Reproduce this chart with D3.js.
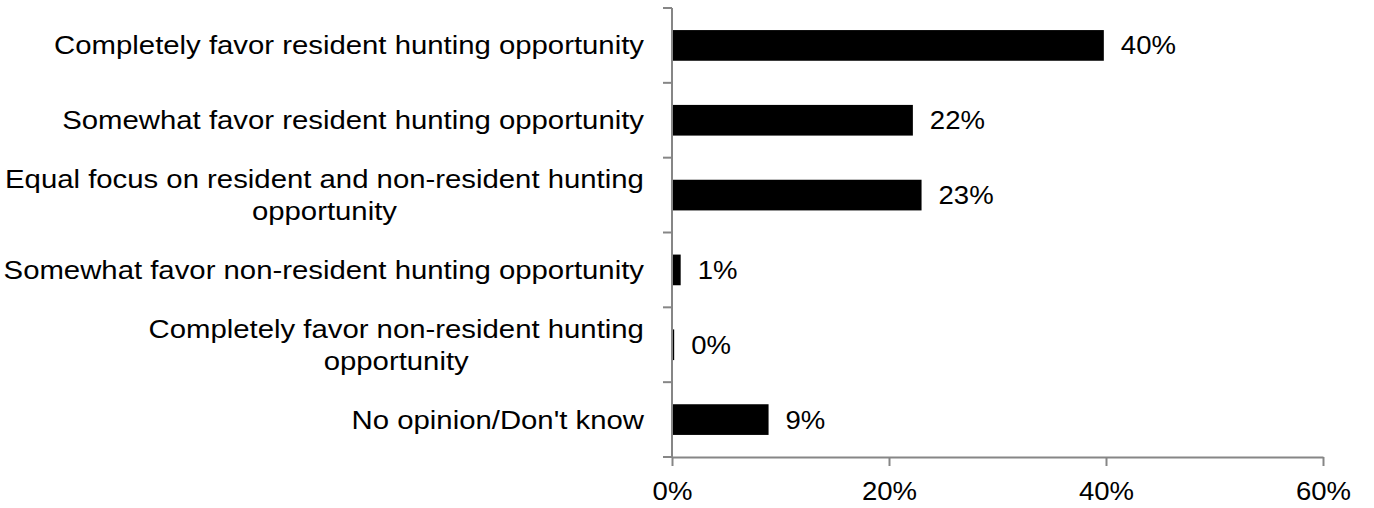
<!DOCTYPE html>
<html>
<head>
<meta charset="utf-8">
<script src="https://cdn.jsdelivr.net/npm/d3@7"></script>
<style>
  html, body { margin: 0; padding: 0; background: #fff; }
  svg { display: block; }
  text { font-family: "Liberation Sans", Arial, sans-serif; fill: #000; }
</style>
</head>
<body>
<svg id="chart" width="1374" height="508"></svg>
<script>
const categories = [
  ["Completely favor resident hunting opportunity"],
  ["Somewhat favor resident hunting opportunity"],
  ["Equal focus on resident and non-resident hunting", "opportunity"],
  ["Somewhat favor non-resident hunting opportunity"],
  ["Completely favor non-resident hunting", "opportunity"],
  ["No opinion/Don't know"]
];
const values = [39.8, 22.2, 23.0, 0.8, 0.2, 8.9];
const xTicks = [0, 20, 40, 60];

(function () {
const keys = categories.map(c => c.join(" "));
const svg = d3.select("#chart");
const mLeft = 672, mRight = 1323, mTop = 8, mBottom = 457;
const fs = 25.5;
const labelSX = 1.15, numSX = 1.08;

const x = d3.scaleLinear().domain([0, 60]).range([mLeft, mRight]);
const y = d3.scaleBand().domain(keys).range([mTop, mBottom]).paddingInner(0.59).paddingOuter(0.295);

// bars
svg.selectAll("rect.bar").data(values).join("rect")
  .attr("class", "bar")
  .attr("x", x(0))
  .attr("y", (d, i) => y(keys[i]))
  .attr("width", d => x(d) - x(0))
  .attr("height", y.bandwidth())
  .attr("fill", "#000");

// value labels
svg.selectAll("text.val").data(values).join("text")
  .attr("class", "val")
  .attr("transform", (d, i) => `translate(${x(d) + 17},${y(keys[i]) + y.bandwidth() / 2}) scale(${numSX},1)`)
  .attr("dy", "0.35em")
  .attr("font-size", fs)
  .text(d => Math.round(d) + "%");

// y axis line + ticks at band boundaries
const axisColor = "#868686";
svg.append("line").attr("x1", mLeft).attr("x2", mLeft).attr("y1", mTop).attr("y2", mBottom)
  .attr("stroke", axisColor).attr("stroke-width", 2);
const bounds = d3.range(keys.length + 1).map(i => mTop + i * (mBottom - mTop) / keys.length);
svg.selectAll("line.ytick").data(bounds).join("line")
  .attr("class", "ytick")
  .attr("x1", mLeft - 9).attr("x2", mLeft)
  .attr("y1", d => d).attr("y2", d => d)
  .attr("stroke", axisColor).attr("stroke-width", 2);

// x axis
const xAxis = d3.axisBottom(x).tickValues(xTicks).tickFormat(d => d + "%").tickSize(9).tickSizeOuter(0);
const gx = svg.append("g").attr("transform", `translate(0,${mBottom})`).call(xAxis);
gx.select(".domain").attr("stroke", axisColor).attr("stroke-width", 2);
gx.selectAll(".tick line").attr("stroke", axisColor).attr("stroke-width", 2);
gx.selectAll(".tick text")
  .attr("font-size", fs)
  .attr("font-family", "Liberation Sans, Arial, sans-serif")
  .attr("fill", "#000")
  .attr("y", null)
  .attr("dy", "0.35em")
  .attr("transform", `translate(0,34) scale(${numSX},1)`);

// category labels
const labelX = 644;
const lineH = 32;
categories.forEach((lines, i) => {
  const cy = y(keys[i]) + y.bandwidth() / 2;
  if (lines.length === 1) {
    svg.append("text")
      .attr("font-size", fs)
      .attr("text-anchor", "end")
      .attr("transform", `translate(${labelX},${cy}) scale(${labelSX},1)`)
      .attr("dy", "0.35em")
      .text(lines[0]);
  } else {
    const tmp = svg.append("text").attr("font-size", fs).text(lines[0]);
    const w = d3.max(lines, l => { tmp.text(l); return tmp.node().getComputedTextLength(); }) * labelSX;
    tmp.remove();
    const cx = labelX - w / 2;
    lines.forEach((l, j) => {
      svg.append("text")
        .attr("font-size", fs)
        .attr("text-anchor", "middle")
        .attr("transform", `translate(${cx},${cy + (j - (lines.length - 1) / 2) * lineH}) scale(${labelSX},1)`)
        .attr("dy", "0.35em")
        .text(l);
    });
  }
});
})();
</script>
</body>
</html>
